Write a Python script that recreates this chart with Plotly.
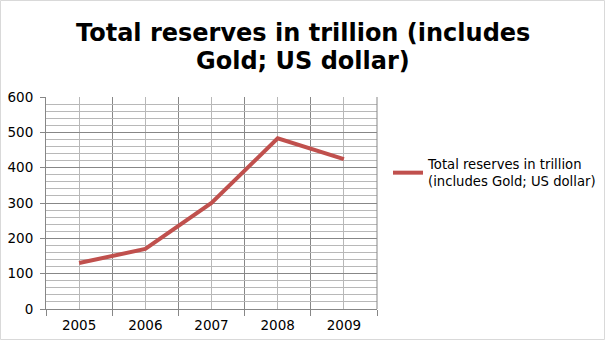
import plotly.graph_objects as go

years = [2005, 2006, 2007, 2008, 2009]
reserves = [130, 170, 300, 483, 424]
series_name = "Total reserves in trillion<br>(includes Gold; US dollar)"
title_lines = ["Total reserves in trillion (includes", "Gold; US dollar)"]

W, H = 605, 340
L, R, T, B = 46, 228, 97, 31
pw, ph = W - L - R, H - T - B
Y0 = H - B  # pixel row of y=0


def px_x(p):
    return (p - L) / pw


def px_y(p):
    return (Y0 - p) / ph


fig = go.Figure()
fig.add_trace(go.Scatter(
    x=years, y=reserves, mode="lines", name=series_name,
    line=dict(color="#C0504D", width=4),
    showlegend=True,
))

dark = "#878787"
light = "#B8B8B8"

title_ann = [
    dict(text="<b>" + t + "</b>", xref="paper", yref="paper",
         x=px_x(W / 2), y=px_y(py), xanchor="center", yanchor="middle",
         showarrow=False, font=dict(family="DejaVu Sans", size=24, color="black"))
    for t, py in zip(title_lines, [33, 61])
]

fig.update_layout(
    width=W, height=H,
    margin=dict(l=L, r=R, t=T, b=B, pad=0, autoexpand=False),
    paper_bgcolor="white", plot_bgcolor="white",
    font=dict(family="DejaVu Sans", size=13, color="black"),
    annotations=title_ann,
    showlegend=True,
    legend=dict(x=px_x(388), y=px_y(149), xanchor="left", yanchor="top",
                font=dict(family="DejaVu Sans", size=13.2, color="black"),
                bgcolor="rgba(0,0,0,0)", itemwidth=30, tracegroupgap=0),
    xaxis=dict(
        range=[2004.5, 2009.5], tickmode="array", tickvals=years,
        ticktext=[str(y) for y in years],
        showgrid=True, gridcolor=light, gridwidth=1,
        ticks="", showline=True, linecolor=dark, linewidth=1,
        zeroline=False, fixedrange=True, ticklabelstandoff=4, automargin=False,
        tickfont=dict(size=13.5),
        minor=dict(tick0=2004.5, dtick=1, showgrid=True, gridcolor=dark,
                   gridwidth=1, ticks="outside", ticklen=6, tickcolor=dark),
        mirror=False,
    ),
    yaxis=dict(
        range=[0, 600], dtick=100, tick0=0,
        showgrid=True, gridcolor=dark, gridwidth=1,
        ticks="outside", ticklen=5, tickcolor=dark,
        showline=True, linecolor=dark, linewidth=1,
        zeroline=False, fixedrange=True, ticklabelstandoff=4, automargin=False,
        tickfont=dict(size=13.5),
        minor=dict(dtick=20, showgrid=True, gridcolor=light, gridwidth=1),
    ),
    shapes=[
        dict(type="rect", xref="paper", yref="paper",
             x0=px_x(0.5), x1=px_x(W - 0.5),
             y0=px_y(H - 0.5), y1=px_y(0.5),
             line=dict(color="#D9D9D9", width=1), fillcolor="rgba(0,0,0,0)",
             layer="below"),
        dict(type="line", xref="paper", yref="paper", x0=1, x1=1, y0=0, y1=1,
             line=dict(color=dark, width=1)),
    ],
)

fig.write_html("out.html")
